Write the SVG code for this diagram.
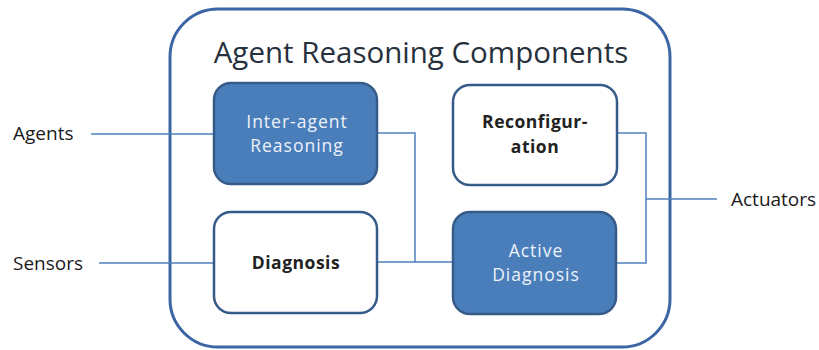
<svg xmlns="http://www.w3.org/2000/svg" width="819" height="350" viewBox="0 0 819 350">
  <style>
    .frame { fill: #ffffff; stroke: #3b66a3; stroke-width: 3; }
    .box { stroke: #375b88; stroke-width: 2.5; }
    .filled { fill: #4a7ebb; }
    .plain { fill: #ffffff; }
    .wire { fill: none; stroke: #4f81bd; stroke-width: 1.5; }
    text { font-family: "Open Sans", "Liberation Sans", sans-serif; }
    .title { font-size: 29.5px; fill: #27303d; }
    .ext { font-size: 19px; fill: #1a1a1a; }
    .light { font-size: 17.5px; letter-spacing: 1px; fill: #eef2f8; text-anchor: middle; }
    .dark { font-size: 17.5px; letter-spacing: 0.5px; fill: #222222; font-weight: bold; text-anchor: middle; }
  </style>

  <rect width="819" height="350" fill="#ffffff"/>

  <!-- container -->
  <g id="container">
    <rect class="frame" x="170" y="9" width="500" height="338" rx="48" ry="48"/>
    <text class="title" x="421" y="63" text-anchor="middle">Agent Reasoning Components</text>
  </g>

  <!-- connectors -->
  <g id="connectors">
    <path class="wire" d="M91 134 H214"/>
    <path class="wire" d="M99 263 H214"/>
    <path class="wire" d="M377 133 H415 V262"/>
    <path class="wire" d="M377 262 H453"/>
    <path class="wire" d="M617 133 H646 V263 H616"/>
    <path class="wire" d="M646 199 H717"/>
  </g>

  <!-- external labels -->
  <g id="agents">
    <text class="ext" x="13" y="140">Agents</text>
  </g>
  <g id="sensors">
    <text class="ext" x="13" y="270">Sensors</text>
  </g>
  <g id="actuators">
    <text class="ext" x="731" y="206">Actuators</text>
  </g>

  <!-- components -->
  <g id="inter-agent-reasoning">
    <rect class="box filled" x="214" y="83" width="163" height="101" rx="17" ry="17"/>
    <text class="light" x="297" y="128">Inter-agent</text>
    <text class="light" x="297" y="152">Reasoning</text>
  </g>
  <g id="reconfiguration">
    <rect class="box plain" x="453" y="85" width="164" height="100" rx="17" ry="17"/>
    <text class="dark" x="535" y="128">Reconfigur-</text>
    <text class="dark" x="535" y="153">ation</text>
  </g>
  <g id="diagnosis">
    <rect class="box plain" x="214" y="212" width="163" height="101" rx="17" ry="17"/>
    <text class="dark" x="296" y="269">Diagnosis</text>
  </g>
  <g id="active-diagnosis">
    <rect class="box filled" x="453" y="212" width="163" height="102" rx="17" ry="17"/>
    <text class="light" x="536" y="257">Active</text>
    <text class="light" x="536" y="281">Diagnosis</text>
  </g>
</svg>
